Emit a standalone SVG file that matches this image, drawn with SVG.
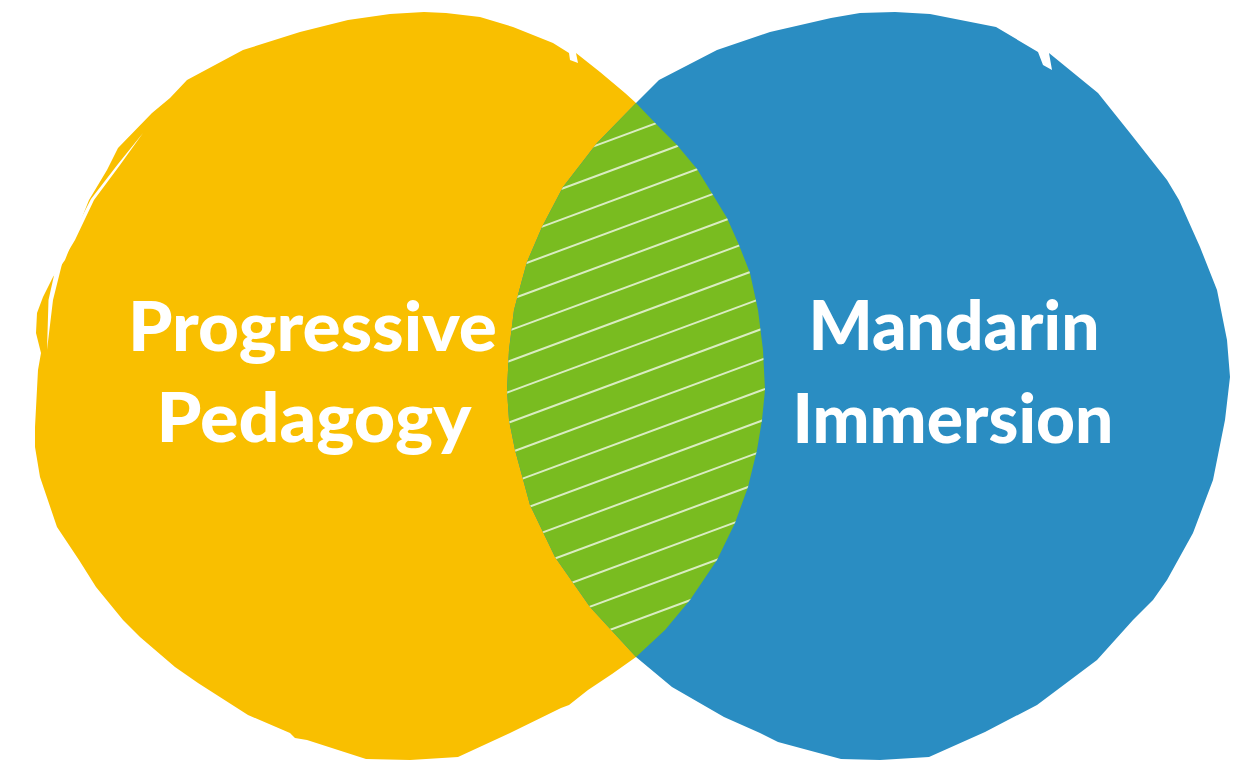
<svg xmlns="http://www.w3.org/2000/svg" width="1249" height="760" viewBox="0 0 1249 760">
  <style>
    .label { font-family: Lato, "Open Sans", "Liberation Sans", sans-serif; font-weight: 900; font-size: 68px; fill: #ffffff; text-anchor: middle; }
    .hatch { stroke: #ffffff; stroke-opacity: 0.72; stroke-width: 2; fill: none; }
  </style>
  <defs>
    <polygon id="yellowShape" points="424,12 446,13 480,17 513,27 553,43 569,53 570,60 578,63 576,53 600,72 625,93 636,103 660,128 677,145 697,169 713,195 727,218 739,245 750,273 758,310 763,350 765,390 762,420 757,450 748,487 735,523 717,560 690,600 665,630 636,657 612,674 588,690 569,705 561,708 510,733 458,757 410,760 366,759 307,740 295,738 290,733 248,715 198,683 175,667 140,637 123,620 96,587 79,560 57,527 40,477 35,447 35,427 38,370 41,353 36,333 37,313 43,297 53,277 65,260 89,200 107,170 118,148 152,113 170,98 187,80 243,50 300,32 348,20 390,14"/>
    <polygon id="blueShape" points="895,12 930,14 996,27 1038,52 1043,65 1052,70 1049,53 1098,93 1130,133 1167,180 1179,200 1200,247 1217,290 1227,340 1230,377 1225,420 1213,480 1193,533 1167,580 1153,600 1133,620 1097,660 1037,705 985,732 929,757 880,760 841,759 778,742 760,733 724,717 672,687 636,657 590,607 555,557 530,505 515,450 509,420 507,390 509,350 514,310 522,280 527,262 542,227 563,187 597,143 636,103 659,80 717,50 770,32 831,18 860,13"/>
    <clipPath id="clipBlue"><use href="#blueShape"/></clipPath>
    <clipPath id="clipYellow"><use href="#yellowShape"/></clipPath>
  </defs>

  <g id="progressive-pedagogy">
    <use href="#yellowShape" fill="#F9BF00"/>
    <path d="M143,133 L120,165 L94,200 L75,240 L63,260 L53,300 L47,350 L48.5,300 L57,262 L71,238 L91,199 L118,164 Z" fill="#ffffff"/>
    <text class="label" x="312.5" y="351" textLength="369" lengthAdjust="spacingAndGlyphs">Progressive</text>
    <text class="label" x="314" y="442" textLength="315" lengthAdjust="spacingAndGlyphs">Pedagogy</text>
  </g>

  <g id="mandarin-immersion">
    <use href="#blueShape" fill="#2A8DC2"/>
    <text class="label" x="954" y="350" textLength="291" lengthAdjust="spacingAndGlyphs">Mandarin</text>
    <text class="label" x="953" y="443" textLength="321" lengthAdjust="spacingAndGlyphs">Immersion</text>
  </g>

  <g id="overlap" clip-path="url(#clipBlue)">
    <g clip-path="url(#clipYellow)">
      <rect x="480" y="90" width="320" height="580" fill="#79BC20"/>
      <g class="hatch">
        <line x1="480" y1="188.4" x2="800" y2="70"/>
        <line x1="480" y1="219" x2="800" y2="100.6"/>
        <line x1="480" y1="249.6" x2="800" y2="131.2"/>
        <line x1="480" y1="280.2" x2="800" y2="161.8"/>
        <line x1="480" y1="310.8" x2="800" y2="192.4"/>
        <line x1="480" y1="341.4" x2="800" y2="223"/>
        <line x1="480" y1="372" x2="800" y2="253.6"/>
        <line x1="480" y1="402.6" x2="800" y2="284.2"/>
        <line x1="480" y1="433.2" x2="800" y2="314.8"/>
        <line x1="480" y1="463.8" x2="800" y2="345.4"/>
        <line x1="480" y1="494.4" x2="800" y2="376"/>
        <line x1="480" y1="525" x2="800" y2="406.6"/>
        <line x1="480" y1="555.6" x2="800" y2="437.2"/>
        <line x1="480" y1="586.2" x2="800" y2="467.8"/>
        <line x1="480" y1="616.8" x2="800" y2="498.4"/>
        <line x1="480" y1="647.4" x2="800" y2="529"/>
        <line x1="480" y1="678" x2="800" y2="559.6"/>
      </g>
    </g>
  </g>

  <g id="connectors"/>
</svg>
